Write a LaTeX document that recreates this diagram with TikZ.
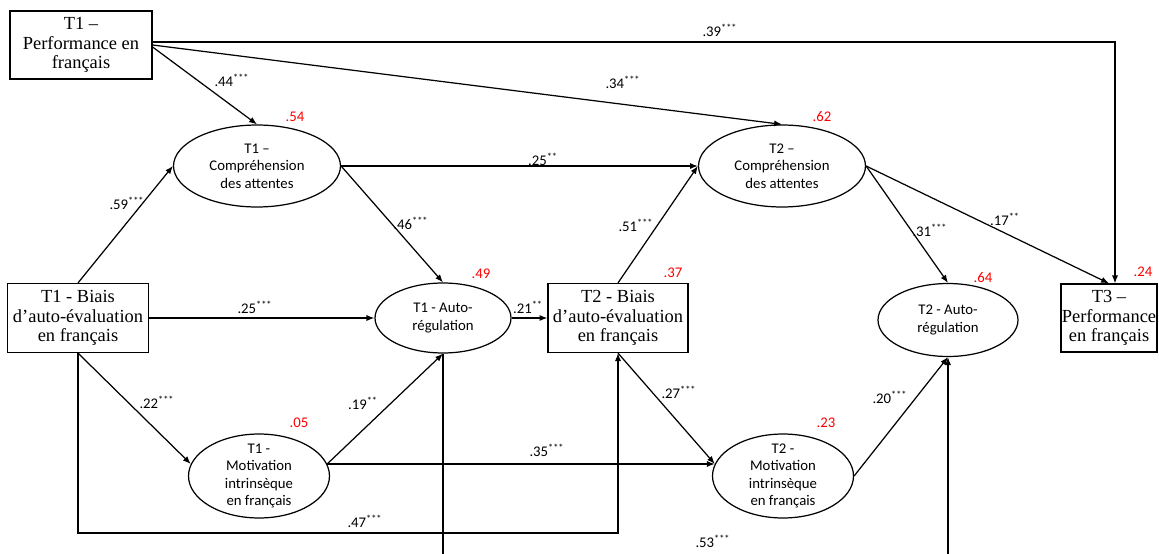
\documentclass[tikz,border=0pt]{standalone}
\usepackage{fontspec}
\setmainfont{Liberation Serif}
\newfontfamily\calib{Carlito}
\usetikzlibrary{calc,shapes.geometric,arrows.meta}

\begin{document}
\begin{tikzpicture}[x=0.02cm,y=-0.02cm,
    box/.style={draw,line width=0.7pt,inner sep=0pt,align=center,font=\fontsize{10.5}{11}\selectfont},
    oval/.style={draw,ellipse,line width=0.7pt,inner xsep=0pt,inner ysep=-4pt,align=center,font=\calib\fontsize{8.4}{10}\selectfont},
    coef/.style={inner sep=0pt,font=\calib\fontsize{8.4}{10}\selectfont},
    rsq/.style={coef,text=red},
    arr/.style={line width=0.7pt,-{Latex[length=4.5pt,width=3.5pt]}}]
            \useasboundingbox (0,0) rectangle (1159,554);
            \clip (0,0) rectangle (1159,554);

            \node (P1) at (81,45) [box,minimum width=2.84cm,minimum height=1.36cm] {T1 –\\Performance en\\français};
            \node (B1) at (78,318) [box,minimum width=2.82cm,minimum height=1.38cm] {T1 - Biais\\d’auto-évaluation\\en français};
            \node (B2) at (618,318) [box,minimum width=2.8cm,minimum height=1.38cm] {T2 - Biais\\d’auto-évaluation\\en français};
            \node (P3) at (1109,318) [box,minimum width=1.92cm,minimum height=1.36cm] {T3 –\\Performance\\en français};

            \node (C1) at (257,166) [oval,minimum width=3.34cm,minimum height=1.64cm] {T1 –\\Compréhension\\des attentes};
            \node (C2) at (782,166) [oval,minimum width=3.34cm,minimum height=1.64cm] {T2 –\\Compréhension\\des attentes};
            \node (A1) at (443,318) [oval,minimum width=2.72cm,minimum height=1.4cm] {T1 - Auto-\\régulation};
            \node (A2) at (948,320) [oval,minimum width=2.8cm,minimum height=1.46cm] {T2 - Auto-\\régulation};
            \node (M1) at (259,476) [oval,minimum width=2.82cm,minimum height=1.68cm] {T1 -\\Motivation\\intrinsèque\\en français};
            \node (M2) at (783,476) [oval,minimum width=2.82cm,minimum height=1.68cm] {T2 -\\Motivation\\intrinsèque\\en français};

            \foreach \a/\b in {P1.east/C2.north, C1.east/C2.west, B1.north/C1.west, C1.east/A1.north,
                               B2.north/C2.west, C2.east/A2.north, C2.east/P3.north, B1.east/A1.west,
                               A1.east/B2.west, B1.south/M1.170, M1.10/A1.south, M1.10/M2.170,
                               B2.south/M2.170, M2.east/A2.south}
                {
                    \draw [arr] (\a) -- (\b);
                }

                \draw [arr] ($(P1.east) + (0,-3)$) -| ($(P3.north) + (6,0)$);
                \draw [arr] ($(P1.east) + (0,2)$) -- (C1.north);
                \draw [arr] (B1.south) -- ++(0,180) -| (B2.south);
                \draw [arr] (A1.south) -- ++(0,240) -| (A2.south);

            \foreach \v/\s/\x/\y [count=\i] in {39/***/720/30, 34/***/623/82, 44/***/232/80, 25/**/543/159,
                                                59/***/127/203, 46/***/411/223, 51/***/636/225, 31/***/930/230,
                                                17/**/1005/219, 25/***/255/307, 21/**/528/307, 22/***/157/402,
                                                19/**/363/403, 27/***/679/392, 20/***/890/397, 35/***/547/450,
                                                47/***/365/521, 53/***/713/541}
                {
                    \node [coef] (k\i) at (\x,\y) {.\v\textsuperscript{\s}};
                }

            \foreach \v/\x/\y [count=\i] in {54/295/117, 62/822/117, 49/481/274, 37/673/273,
                                             64/983/278, 24/1143/272, 05/299/423, 23/826/423}
                {
                    \node [rsq] (r\i) at (\x,\y) {.\v};
                }

        \end{tikzpicture}
\end{document}
